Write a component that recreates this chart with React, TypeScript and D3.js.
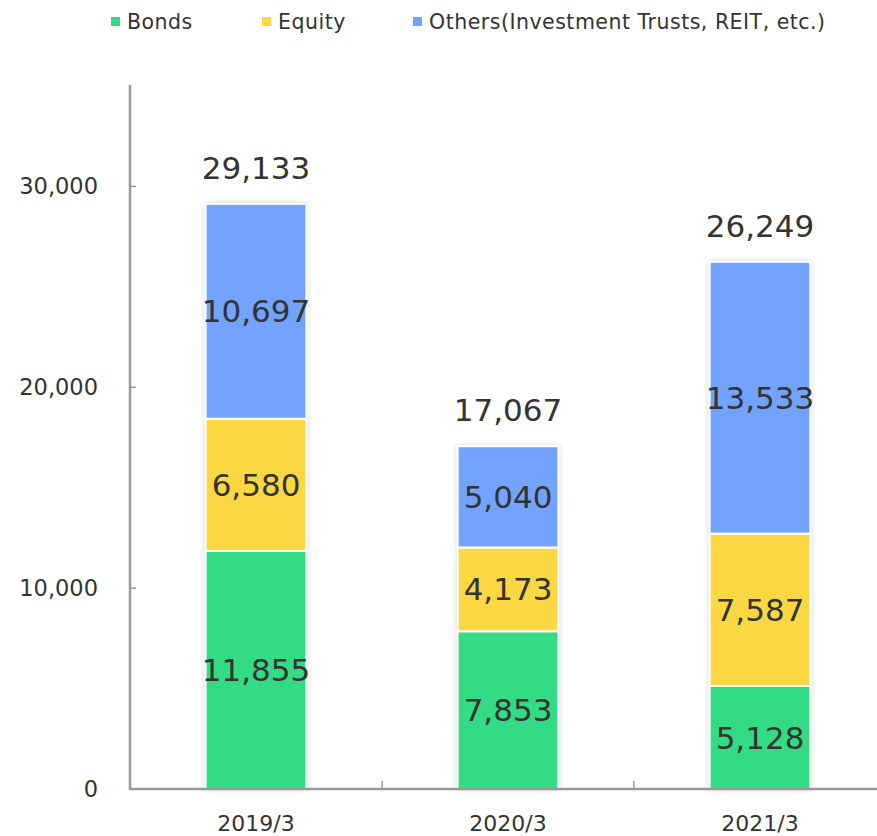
import * as d3 from "d3";

const categories = ["2019/3", "2020/3", "2021/3"];
const bonds = [11855, 7853, 5128];
const equity = [6580, 4173, 7587];
const others = [10697, 5040, 13533];
const totals = [29133, 17067, 26249];
const seriesNames = ["Bonds", "Equity", "Others(Investment Trusts, REIT, etc.)"];
const colors = ["#33DB84", "#FCD744", "#74A3FF"];
const yTicks = [0, 10000, 20000, 30000];

const W = 877;
const H = 836;
const left = 130;
const bottom = 789;
const top = 86;
const right = 886;

const font = "'DejaVu Sans', Verdana, sans-serif";
const fmt = d3.format(",");

export default function App() {
  const x = d3.scaleBand().domain(categories).range([left, right]).paddingInner(0.6).paddingOuter(0.3);
  const y = d3.scaleLinear().domain([0, 35000]).range([bottom, top]);

  const rows = categories.map((c, i) => ({ cat: c, s0: bonds[i], s1: equity[i], s2: others[i] }));
  const stack = d3.stack<any>().keys(["s0", "s1", "s2"]);
  const layers = stack(rows);

  const legendX = [111, 262, 413];

  return (
    <div style={{ position: "absolute", left: 0, top: 0 }}>
      <svg width={W} height={H} style={{ display: "block", background: "#fff" }}>
        <defs>
          <filter id="shadow" x="-20%" y="-20%" width="140%" height="140%">
            <feDropShadow dx="0" dy="0" stdDeviation="3" floodColor="#000" floodOpacity="0.22" />
          </filter>
        </defs>

        {/* legend */}
        {seriesNames.map((n, i) => (
          <g key={n}>
            <rect x={legendX[i]} y={17} width={9} height={9} fill={colors[i]} />
            <text x={legendX[i] + 16} y={29} fontFamily={font} fontSize={20.5} letterSpacing={0.5} fill="#333">
              {n}
            </text>
          </g>
        ))}

        {/* bars shadow */}
        {categories.map((c, i) => (
          <rect
            key={"sh" + c}
            x={x(c)!}
            y={y(totals[i])}
            width={x.bandwidth()}
            height={y(0) - y(totals[i])}
            fill="#fff"
            filter="url(#shadow)"
          />
        ))}

        {/* bars */}
        {layers.map((layer, li) =>
          layer.map((d, i) => (
            <rect
              key={li + "-" + i}
              x={x(categories[i])!}
              y={y(d[1])}
              width={x.bandwidth()}
              height={y(d[0]) - y(d[1])}
              fill={colors[li]}
              stroke="#fff"
              strokeWidth={2}
            />
          ))
        )}

        {/* segment labels */}
        {layers.map((layer, li) =>
          layer.map((d, i) => (
            <text
              key={"l" + li + "-" + i}
              x={x(categories[i])! + x.bandwidth() / 2}
              y={(y(d[0]) + y(d[1])) / 2}
              textAnchor="middle"
              dominantBaseline="central"
              fontFamily={font}
              fontSize={31}
              fill="#333"
            >
              {fmt(d[1] - d[0])}
            </text>
          ))
        )}

        {/* totals */}
        {categories.map((c, i) => (
          <text
            key={"t" + c}
            x={x(c)! + x.bandwidth() / 2}
            y={y(totals[i]) - 25}
            textAnchor="middle"
            fontFamily={font}
            fontSize={31}
            fill="#333"
          >
            {fmt(totals[i])}
          </text>
        ))}

        {/* y axis */}
        <line x1={left} x2={left} y1={top - 1} y2={bottom + 1} stroke="#999" strokeWidth={2.5} />
        {yTicks.map((t) => (
          <g key={t}>
            <line x1={left} x2={left + 6} y1={y(t)} y2={y(t)} stroke="#999" strokeWidth={1.5} />
            <text
              x={98}
              y={y(t)}
              textAnchor="end"
              dominantBaseline="central"
              fontFamily={font}
              fontSize={22.5}
              fill="#333"
            >
              {fmt(t)}
            </text>
          </g>
        ))}

        {/* x axis */}
        <line x1={left - 1} x2={W} y1={bottom} y2={bottom} stroke="#999" strokeWidth={2.5} />
        {categories.slice(1).map((c) => (
          <line
            key={"xt" + c}
            x1={x(c)! - (x.step() * x.paddingInner()) / 2}
            x2={x(c)! - (x.step() * x.paddingInner()) / 2}
            y1={bottom}
            y2={bottom - 8}
            stroke="#999"
            strokeWidth={1.5}
          />
        ))}
        {categories.map((c) => (
          <text
            key={"xl" + c}
            x={x(c)! + x.bandwidth() / 2}
            y={831}
            textAnchor="middle"
            fontFamily={font}
            fontSize={22}
            fill="#333"
          >
            {c}
          </text>
        ))}
      </svg>
    </div>
  );
}
